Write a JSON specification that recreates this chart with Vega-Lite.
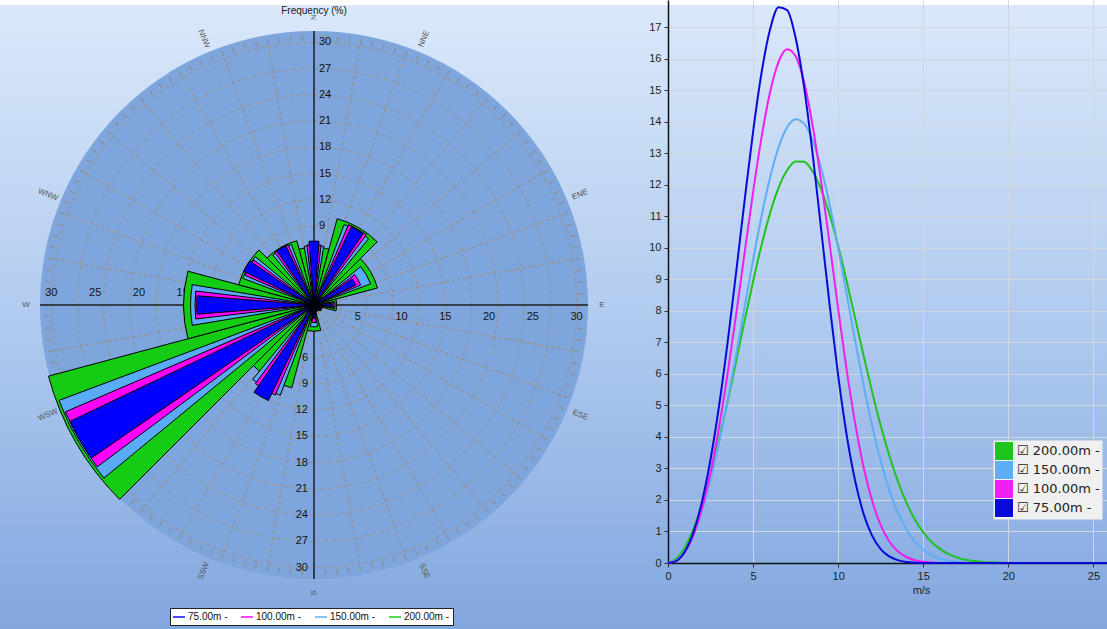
{
  "$schema": "https://vega.github.io/schema/vega-lite/v6.json",
  "padding": 0,
  "spacing": 40,
  "bounds": "flush",
  "background": "#ffffff",
  "config": {"view": {"stroke": null}, "font": "Liberation Sans"},
  "resolve": {"scale": {"color": "independent"}, "legend": {"color": "independent"}},
  "datasets": {
    "rose": [
      {"dir": 0, "h": "200.00m", "f": 6.6}, {"dir": 30, "h": "200.00m", "f": 10.2}, {"dir": 60, "h": "200.00m", "f": 7.5}, {"dir": 90, "h": "200.00m", "f": 2.6},
      {"dir": 120, "h": "200.00m", "f": 1.0}, {"dir": 150, "h": "200.00m", "f": 0.8}, {"dir": 180, "h": "200.00m", "f": 3.0}, {"dir": 210, "h": "200.00m", "f": 9.8},
      {"dir": 240, "h": "200.00m", "f": 31.4}, {"dir": 270, "h": "200.00m", "f": 14.9}, {"dir": 300, "h": "200.00m", "f": 8.9}, {"dir": 330, "h": "200.00m", "f": 7.6},
      {"dir": 0, "h": "150.00m", "f": 6.8}, {"dir": 30, "h": "150.00m", "f": 9.8}, {"dir": 60, "h": "150.00m", "f": 6.9}, {"dir": 90, "h": "150.00m", "f": 2.4},
      {"dir": 120, "h": "150.00m", "f": 0.9}, {"dir": 150, "h": "150.00m", "f": 0.7}, {"dir": 180, "h": "150.00m", "f": 2.5}, {"dir": 210, "h": "150.00m", "f": 11.0},
      {"dir": 240, "h": "150.00m", "f": 31.1}, {"dir": 270, "h": "150.00m", "f": 14.1}, {"dir": 300, "h": "150.00m", "f": 8.7}, {"dir": 330, "h": "150.00m", "f": 7.4},
      {"dir": 0, "h": "100.00m", "f": 6.9}, {"dir": 30, "h": "100.00m", "f": 10.0}, {"dir": 60, "h": "100.00m", "f": 5.8}, {"dir": 90, "h": "100.00m", "f": 2.3},
      {"dir": 120, "h": "100.00m", "f": 0.9}, {"dir": 150, "h": "100.00m", "f": 0.7}, {"dir": 180, "h": "100.00m", "f": 2.0}, {"dir": 210, "h": "100.00m", "f": 11.2},
      {"dir": 240, "h": "100.00m", "f": 30.9}, {"dir": 270, "h": "100.00m", "f": 13.6}, {"dir": 300, "h": "100.00m", "f": 8.6}, {"dir": 330, "h": "100.00m", "f": 7.5},
      {"dir": 0, "h": "75.00m", "f": 7.3}, {"dir": 30, "h": "75.00m", "f": 9.9}, {"dir": 60, "h": "75.00m", "f": 5.3}, {"dir": 90, "h": "75.00m", "f": 2.1},
      {"dir": 120, "h": "75.00m", "f": 0.8}, {"dir": 150, "h": "75.00m", "f": 0.6}, {"dir": 180, "h": "75.00m", "f": 1.5}, {"dir": 210, "h": "75.00m", "f": 12.1},
      {"dir": 240, "h": "75.00m", "f": 30.9}, {"dir": 270, "h": "75.00m", "f": 13.4}, {"dir": 300, "h": "75.00m", "f": 8.9}, {"dir": 330, "h": "75.00m", "f": 7.5}
    ],
    "wb": [
      {"h": "200.00m", "v": 0, "f": 0}, {"h": "200.00m", "v": 0.5, "f": 0.14}, {"h": "200.00m", "v": 1, "f": 0.5}, {"h": "200.00m", "v": 1.5, "f": 1.09}, {"h": "200.00m", "v": 2, "f": 1.86}, {"h": "200.00m", "v": 2.5, "f": 2.81}, {"h": "200.00m", "v": 3, "f": 3.91}, {"h": "200.00m", "v": 3.5, "f": 5.11}, {"h": "200.00m", "v": 4, "f": 6.39}, {"h": "200.00m", "v": 4.5, "f": 7.68}, {"h": "200.00m", "v": 5, "f": 8.93}, {"h": "200.00m", "v": 5.5, "f": 10.09}, {"h": "200.00m", "v": 6, "f": 11.1}, {"h": "200.00m", "v": 6.5, "f": 11.91}, {"h": "200.00m", "v": 7, "f": 12.46}, {"h": "200.00m", "v": 7.5, "f": 12.74}, {"h": "200.00m", "v": 8, "f": 12.73}, {"h": "200.00m", "v": 8.5, "f": 12.42}, {"h": "200.00m", "v": 9, "f": 11.85}, {"h": "200.00m", "v": 9.5, "f": 11.05}, {"h": "200.00m", "v": 10, "f": 10.06}, {"h": "200.00m", "v": 10.5, "f": 8.94}, {"h": "200.00m", "v": 11, "f": 7.76}, {"h": "200.00m", "v": 11.5, "f": 6.57}, {"h": "200.00m", "v": 12, "f": 5.42}, {"h": "200.00m", "v": 12.5, "f": 4.36}, {"h": "200.00m", "v": 13, "f": 3.42}, {"h": "200.00m", "v": 13.5, "f": 2.61}, {"h": "200.00m", "v": 14, "f": 1.93}, {"h": "200.00m", "v": 14.5, "f": 1.39}, {"h": "200.00m", "v": 15, "f": 0.98}, {"h": "200.00m", "v": 15.5, "f": 0.66}, {"h": "200.00m", "v": 16, "f": 0.44}, {"h": "200.00m", "v": 16.5, "f": 0.28}, {"h": "200.00m", "v": 17, "f": 0.17}, {"h": "200.00m", "v": 17.5, "f": 0.1}, {"h": "200.00m", "v": 18, "f": 0.06}, {"h": "200.00m", "v": 18.5, "f": 0.03}, {"h": "200.00m", "v": 19, "f": 0.02}, {"h": "200.00m", "v": 19.5, "f": 0.01}, {"h": "200.00m", "v": 20, "f": 0}, {"h": "200.00m", "v": 25.8, "f": 0},
      {"h": "150.00m", "v": 0, "f": 0}, {"h": "150.00m", "v": 0.5, "f": 0.09}, {"h": "150.00m", "v": 1, "f": 0.39}, {"h": "150.00m", "v": 1.5, "f": 0.92}, {"h": "150.00m", "v": 2, "f": 1.67}, {"h": "150.00m", "v": 2.5, "f": 2.64}, {"h": "150.00m", "v": 3, "f": 3.81}, {"h": "150.00m", "v": 3.5, "f": 5.15}, {"h": "150.00m", "v": 4, "f": 6.6}, {"h": "150.00m", "v": 4.5, "f": 8.11}, {"h": "150.00m", "v": 5, "f": 9.61}, {"h": "150.00m", "v": 5.5, "f": 11.01}, {"h": "150.00m", "v": 6, "f": 12.23}, {"h": "150.00m", "v": 6.5, "f": 13.19}, {"h": "150.00m", "v": 7, "f": 13.82}, {"h": "150.00m", "v": 7.5, "f": 14.08}, {"h": "150.00m", "v": 8, "f": 13.94}, {"h": "150.00m", "v": 8.5, "f": 13.41}, {"h": "150.00m", "v": 9, "f": 12.53}, {"h": "150.00m", "v": 9.5, "f": 11.37}, {"h": "150.00m", "v": 10, "f": 10.01}, {"h": "150.00m", "v": 10.5, "f": 8.53}, {"h": "150.00m", "v": 11, "f": 7.05}, {"h": "150.00m", "v": 11.5, "f": 5.63}, {"h": "150.00m", "v": 12, "f": 4.35}, {"h": "150.00m", "v": 12.5, "f": 3.24}, {"h": "150.00m", "v": 13, "f": 2.32}, {"h": "150.00m", "v": 13.5, "f": 1.61}, {"h": "150.00m", "v": 14, "f": 1.07}, {"h": "150.00m", "v": 14.5, "f": 0.68}, {"h": "150.00m", "v": 15, "f": 0.42}, {"h": "150.00m", "v": 15.5, "f": 0.25}, {"h": "150.00m", "v": 16, "f": 0.14}, {"h": "150.00m", "v": 16.5, "f": 0.07}, {"h": "150.00m", "v": 17, "f": 0.03}, {"h": "150.00m", "v": 17.5, "f": 0.01}, {"h": "150.00m", "v": 18, "f": 0}, {"h": "150.00m", "v": 25.8, "f": 0},
      {"h": "100.00m", "v": 0, "f": 0}, {"h": "100.00m", "v": 0.5, "f": 0.07}, {"h": "100.00m", "v": 1, "f": 0.35}, {"h": "100.00m", "v": 1.5, "f": 0.89}, {"h": "100.00m", "v": 2, "f": 1.73}, {"h": "100.00m", "v": 2.5, "f": 2.87}, {"h": "100.00m", "v": 3, "f": 4.31}, {"h": "100.00m", "v": 3.5, "f": 5.99}, {"h": "100.00m", "v": 4, "f": 7.86}, {"h": "100.00m", "v": 4.5, "f": 9.83}, {"h": "100.00m", "v": 5, "f": 11.76}, {"h": "100.00m", "v": 5.5, "f": 13.51}, {"h": "100.00m", "v": 6, "f": 14.94}, {"h": "100.00m", "v": 6.5, "f": 15.9}, {"h": "100.00m", "v": 7, "f": 16.3}, {"h": "100.00m", "v": 7.5, "f": 16.08}, {"h": "100.00m", "v": 8, "f": 15.25}, {"h": "100.00m", "v": 8.5, "f": 13.88}, {"h": "100.00m", "v": 9, "f": 12.11}, {"h": "100.00m", "v": 9.5, "f": 10.12}, {"h": "100.00m", "v": 10, "f": 8.07}, {"h": "100.00m", "v": 10.5, "f": 6.13}, {"h": "100.00m", "v": 11, "f": 4.43}, {"h": "100.00m", "v": 11.5, "f": 3.03}, {"h": "100.00m", "v": 12, "f": 1.97}, {"h": "100.00m", "v": 12.5, "f": 1.2}, {"h": "100.00m", "v": 13, "f": 0.69}, {"h": "100.00m", "v": 13.5, "f": 0.37}, {"h": "100.00m", "v": 14, "f": 0.19}, {"h": "100.00m", "v": 14.5, "f": 0.09}, {"h": "100.00m", "v": 15, "f": 0.04}, {"h": "100.00m", "v": 15.5, "f": 0.015}, {"h": "100.00m", "v": 16, "f": 0}, {"h": "100.00m", "v": 25.8, "f": 0},
      {"h": "75.00m", "v": 0, "f": 0}, {"h": "75.00m", "v": 0.5, "f": 0.07}, {"h": "75.00m", "v": 1, "f": 0.37}, {"h": "75.00m", "v": 1.5, "f": 0.98}, {"h": "75.00m", "v": 2, "f": 1.95}, {"h": "75.00m", "v": 2.5, "f": 3.29}, {"h": "75.00m", "v": 3, "f": 4.98}, {"h": "75.00m", "v": 3.5, "f": 6.98}, {"h": "75.00m", "v": 4, "f": 9.2}, {"h": "75.00m", "v": 4.5, "f": 11.49}, {"h": "75.00m", "v": 5, "f": 13.68}, {"h": "75.00m", "v": 5.5, "f": 15.56}, {"h": "75.00m", "v": 6, "f": 16.93}, {"h": "75.00m", "v": 6.5, "f": 17.63}, {"h": "75.00m", "v": 7, "f": 17.54}, {"h": "75.00m", "v": 7.5, "f": 16.66}, {"h": "75.00m", "v": 8, "f": 15.09}, {"h": "75.00m", "v": 8.5, "f": 12.98}, {"h": "75.00m", "v": 9, "f": 10.59}, {"h": "75.00m", "v": 9.5, "f": 8.18}, {"h": "75.00m", "v": 10, "f": 5.95}, {"h": "75.00m", "v": 10.5, "f": 4.06}, {"h": "75.00m", "v": 11, "f": 2.6}, {"h": "75.00m", "v": 11.5, "f": 1.55}, {"h": "75.00m", "v": 12, "f": 0.86}, {"h": "75.00m", "v": 12.5, "f": 0.44}, {"h": "75.00m", "v": 13, "f": 0.21}, {"h": "75.00m", "v": 13.5, "f": 0.09}, {"h": "75.00m", "v": 14, "f": 0.03}, {"h": "75.00m", "v": 14.5, "f": 0.01}, {"h": "75.00m", "v": 15, "f": 0}, {"h": "75.00m", "v": 25.8, "f": 0}
    ]
  },
  "hconcat": [
    {
      "width": 628,
      "height": 610,
      "resolve": {"scale": {"theta": "independent", "angle": "independent"}},
      "layer": [
        {
          "data": {"values": [{}]},
          "mark": {"type": "rect", "x": 0, "x2": 1107, "y": 5, "y2": 629,
            "color": {"gradient": "linear", "x1": 0, "y1": 0, "x2": 0, "y2": 1,
              "stops": [{"offset": 0, "color": "#dae8fa"}, {"offset": 0.5, "color": "#b1cbef"}, {"offset": 1, "color": "#82a7df"}]}},
          "encoding": {}
        },
        {
          "data": {"values": [{"r": 31.3}]},
          "mark": {"type": "arc", "theta": 0, "theta2": 6.2832, "color": "#7ea6dd"},
          "encoding": {"radius": {"field": "r", "type": "quantitative", "stack": null, "scale": {"type": "linear", "domain": [0, 31.3], "range": [0, 274], "zero": true, "nice": false}}}
        },
        {
          "data": {"values": [{"r": 30.55}]},
          "mark": {"type": "arc", "theta": 0, "theta2": 6.2832, "filled": false, "color": "#8e8b8a", "strokeWidth": 5, "strokeDash": [1.2, 10.46]},
          "encoding": {"radius": {"field": "r", "type": "quantitative", "stack": null, "scale": {"type": "linear", "domain": [0, 31.3], "range": [0, 274], "zero": true, "nice": false}}}
        },
        {
          "data": {"values": [{"r": 3}, {"r": 6}, {"r": 9}, {"r": 12}, {"r": 15}, {"r": 18}, {"r": 21}, {"r": 24}, {"r": 27}, {"r": 30}]},
          "mark": {"type": "arc", "theta": 0, "theta2": 6.2832, "filled": false, "color": "#9a9089", "strokeWidth": 1, "strokeDash": [4, 3]},
          "encoding": {"radius": {"field": "r", "type": "quantitative", "stack": null, "scale": {"type": "linear", "domain": [0, 31.3], "range": [0, 274], "zero": true, "nice": false}}}
        },
        {
          "data": {"values": [{"a": 10}, {"a": 20}, {"a": 30}, {"a": 40}, {"a": 50}, {"a": 60}, {"a": 70}, {"a": 80}, {"a": 100}, {"a": 110}, {"a": 120}, {"a": 130}, {"a": 140}, {"a": 150}, {"a": 160}, {"a": 170}, {"a": 190}, {"a": 200}, {"a": 210}, {"a": 220}, {"a": 230}, {"a": 240}, {"a": 250}, {"a": 260}, {"a": 280}, {"a": 290}, {"a": 300}, {"a": 310}, {"a": 320}, {"a": 330}, {"a": 340}, {"a": 350}]},
          "mark": {"type": "arc", "filled": false, "color": "#9a9089", "strokeWidth": 1, "strokeDash": [3, 3]},
          "encoding": {
            "theta": {"field": "a", "type": "quantitative", "stack": null, "scale": {"domain": [0, 360], "range": [0, 6.283185]}},
            "theta2": {"field": "a"},
            "radius": {"datum": 30, "type": "quantitative", "scale": {"type": "linear", "domain": [0, 31.3], "range": [0, 274], "zero": true, "nice": false}}
          }
        },
        {
          "data": {"values": [{"a": 0}, {"a": 90}, {"a": 180}, {"a": 270}]},
          "mark": {"type": "arc", "filled": false, "color": "#1e1e1e", "strokeWidth": 1.5},
          "encoding": {
            "theta": {"field": "a", "type": "quantitative", "stack": null, "scale": {"domain": [0, 360], "range": [0, 6.283185]}},
            "theta2": {"field": "a"},
            "radius": {"datum": 31.3, "type": "quantitative", "scale": {"type": "linear", "domain": [0, 31.3], "range": [0, 274], "zero": true, "nice": false}}
          }
        },
        {
          "data": {"values": [{"r": 9}, {"r": 12}, {"r": 15}, {"r": 18}, {"r": 21}, {"r": 24}, {"r": 27}, {"r": 30}]},
          "mark": {"type": "text", "theta": 0, "dx": 5, "align": "left", "baseline": "middle", "fontSize": 11, "color": "#111111"},
          "encoding": {"radius": {"field": "r", "type": "quantitative", "scale": {"type": "linear", "domain": [0, 31.3], "range": [0, 274], "zero": true, "nice": false}}, "text": {"field": "r"}}
        },
        {
          "data": {"values": [{"r": 6}, {"r": 9}, {"r": 12}, {"r": 15}, {"r": 18}, {"r": 21}, {"r": 24}, {"r": 27}, {"r": 30}]},
          "mark": {"type": "text", "theta": 3.14159, "dx": -6, "align": "right", "baseline": "middle", "fontSize": 11, "color": "#111111"},
          "encoding": {"radius": {"field": "r", "type": "quantitative", "scale": {"type": "linear", "domain": [0, 31.3], "range": [0, 274], "zero": true, "nice": false}}, "text": {"field": "r"}}
        },
        {
          "data": {"values": [{"r": 0}, {"r": 5}, {"r": 10}, {"r": 15}, {"r": 20}, {"r": 25}, {"r": 30}]},
          "mark": {"type": "text", "theta": 1.5708, "dy": 12, "align": "center", "baseline": "middle", "fontSize": 11, "color": "#111111"},
          "encoding": {"radius": {"field": "r", "type": "quantitative", "scale": {"type": "linear", "domain": [0, 31.3], "range": [0, 274], "zero": true, "nice": false}}, "text": {"field": "r"}}
        },
        {
          "data": {"values": [{"r": 15}, {"r": 20}, {"r": 25}, {"r": 30}]},
          "mark": {"type": "text", "theta": 4.71239, "dy": -12, "align": "center", "baseline": "middle", "fontSize": 11, "color": "#111111"},
          "encoding": {"radius": {"field": "r", "type": "quantitative", "scale": {"type": "linear", "domain": [0, 31.3], "range": [0, 274], "zero": true, "nice": false}}, "text": {"field": "r"}}
        },
        {
          "data": {"values": [{"d": "N", "a": 0}, {"d": "NNE", "a": 22.5}, {"d": "ENE", "a": 67.5}, {"d": "E", "a": 90}, {"d": "ESE", "a": 112.5}, {"d": "SSE", "a": 157.5}]},
          "mark": {"type": "text", "align": "center", "baseline": "middle", "fontSize": 8, "color": "#555555"},
          "encoding": {
            "theta": {"field": "a", "type": "quantitative", "stack": null, "scale": {"domain": [0, 360], "range": [0, 6.283185]}},
            "radius": {"datum": 32.9, "type": "quantitative", "scale": {"type": "linear", "domain": [0, 31.3], "range": [0, 274], "zero": true, "nice": false}},
            "angle": {"field": "a", "type": "quantitative", "scale": {"domain": [0, 180], "range": [-90, 90]}, "legend": null},
            "text": {"field": "d"}
          }
        },
        {
          "data": {"values": [{"d": "S", "a": 180}, {"d": "SSW", "a": 202.5}, {"d": "WSW", "a": 247.5}, {"d": "W", "a": 270}, {"d": "WNW", "a": 292.5}, {"d": "NNW", "a": 337.5}]},
          "mark": {"type": "text", "align": "center", "baseline": "middle", "fontSize": 8, "color": "#555555"},
          "encoding": {
            "theta": {"field": "a", "type": "quantitative", "stack": null, "scale": {"domain": [0, 360], "range": [0, 6.283185]}},
            "radius": {"datum": 32.9, "type": "quantitative", "scale": {"type": "linear", "domain": [0, 31.3], "range": [0, 274], "zero": true, "nice": false}},
            "angle": {"field": "a", "type": "quantitative", "scale": {"domain": [180, 360], "range": [-90, 90]}, "legend": null},
            "text": {"field": "d"}
          }
        },
        {
          "data": {"values": [{"t": "Frequency (%)"}]},
          "mark": {"type": "text", "theta": 0, "align": "center", "baseline": "middle", "fontSize": 10, "color": "#1a1a1a"},
          "encoding": {
            "radius": {"datum": 33.6, "type": "quantitative", "scale": {"type": "linear", "domain": [0, 31.3], "range": [0, 274], "zero": true, "nice": false}},
            "text": {"field": "t"}
          }
        },
        {
          "data": {"name": "rose"},
          "transform": [{"filter": {"field": "h", "equal": "200.00m"}}],
          "mark": {"type": "arc", "stroke": "#000000", "strokeWidth": 1},
          "encoding": {
            "theta": {"field": "dir", "type": "ordinal", "scale": {"type": "band", "domain": [0, 30, 60, 90, 120, 150, 180, 210, 240, 270, 300, 330], "range": [-0.261799, 6.021386], "paddingInner": 0, "paddingOuter": 0}},
            "radius": {"field": "f", "type": "quantitative", "stack": null, "scale": {"type": "linear", "domain": [0, 31.3], "range": [0, 274], "zero": true, "nice": false}},
            "color": {"field": "h", "type": "nominal", "scale": {"domain": ["75.00m", "100.00m", "150.00m", "200.00m"], "range": ["#0000ff", "#ff00ff", "#5aabf5", "#14cc14"]},
              "legend": {"title": null, "orient": "none", "legendX": 170, "legendY": 608, "direction": "horizontal", "columns": 4,
                "symbolType": "M-1,-0.12H1V0.12H-1Z", "symbolSize": 144, "symbolStrokeWidth": 0, "labelFontSize": 10, "labelColor": "#111111",
                "fillColor": "#ffffff", "strokeColor": "#222222", "padding": 3, "columnPadding": 13, "labelOffset": 3,
                "labelExpr": "datum.label + ' -'",
                "encode": {"symbols": {"update": {"stroke": {"value": "transparent"}, "strokeWidth": {"value": 0}}}}}}
          }
        },
        {
          "data": {"name": "rose"},
          "transform": [{"filter": {"field": "h", "equal": "150.00m"}}],
          "mark": {"type": "arc", "stroke": "#000000", "strokeWidth": 1},
          "encoding": {
            "theta": {"field": "dir", "type": "ordinal", "scale": {"type": "band", "domain": [0, 30, 60, 90, 120, 150, 180, 210, 240, 270, 300, 330], "range": [-0.261799, 6.021386], "paddingInner": 0.367, "paddingOuter": 0.1835}},
            "radius": {"field": "f", "type": "quantitative", "stack": null, "scale": {"type": "linear", "domain": [0, 31.3], "range": [0, 274], "zero": true, "nice": false}},
            "color": {"field": "h", "type": "nominal", "scale": {"domain": ["75.00m", "100.00m", "150.00m", "200.00m"], "range": ["#0000ff", "#ff00ff", "#5aabf5", "#14cc14"]}}
          }
        },
        {
          "data": {"name": "rose"},
          "transform": [{"filter": {"field": "h", "equal": "100.00m"}}],
          "mark": {"type": "arc", "stroke": "#000000", "strokeWidth": 1},
          "encoding": {
            "theta": {"field": "dir", "type": "ordinal", "scale": {"type": "band", "domain": [0, 30, 60, 90, 120, 150, 180, 210, 240, 270, 300, 330], "range": [-0.261799, 6.021386], "paddingInner": 0.55, "paddingOuter": 0.275}},
            "radius": {"field": "f", "type": "quantitative", "stack": null, "scale": {"type": "linear", "domain": [0, 31.3], "range": [0, 274], "zero": true, "nice": false}},
            "color": {"field": "h", "type": "nominal", "scale": {"domain": ["75.00m", "100.00m", "150.00m", "200.00m"], "range": ["#0000ff", "#ff00ff", "#5aabf5", "#14cc14"]}}
          }
        },
        {
          "data": {"name": "rose"},
          "transform": [{"filter": {"field": "h", "equal": "75.00m"}}],
          "mark": {"type": "arc", "stroke": "#000000", "strokeWidth": 1},
          "encoding": {
            "theta": {"field": "dir", "type": "ordinal", "scale": {"type": "band", "domain": [0, 30, 60, 90, 120, 150, 180, 210, 240, 270, 300, 330], "range": [-0.261799, 6.021386], "paddingInner": 0.7, "paddingOuter": 0.35}},
            "radius": {"field": "f", "type": "quantitative", "stack": null, "scale": {"type": "linear", "domain": [0, 31.3], "range": [0, 274], "zero": true, "nice": false}},
            "color": {"field": "h", "type": "nominal", "scale": {"domain": ["75.00m", "100.00m", "150.00m", "200.00m"], "range": ["#0000ff", "#ff00ff", "#5aabf5", "#14cc14"]}}
          }
        }
      ]
    },
    {
      "width": 439,
      "height": 563,
      "data": {"name": "wb"},
      "mark": {"type": "line", "strokeWidth": 2, "interpolate": "monotone"},
      "encoding": {
        "x": {"field": "v", "type": "quantitative", "scale": {"domain": [0, 25.8], "nice": false, "zero": false},
          "axis": {"values": [0, 5, 10, 15, 20, 25], "title": "m/s", "titleX": 253, "titleFontSize": 11, "titleFontWeight": "normal", "titleColor": "#222222", "titlePadding": 3,
            "labelFontSize": 11, "labelColor": "#222222", "labelPadding": 3, "labelFlush": false, "tickSize": 4, "tickColor": "#333333",
            "domainColor": "#111111", "domainWidth": 1.5, "gridColor": "#d2d7de", "gridWidth": 1}},
        "y": {"field": "f", "type": "quantitative", "scale": {"domain": [0, 17.86], "nice": false},
          "axis": {"values": [0, 1, 2, 3, 4, 5, 6, 7, 8, 9, 10, 11, 12, 13, 14, 15, 16, 17], "title": null,
            "labelFontSize": 11, "labelColor": "#222222", "labelPadding": 3, "tickSize": 4, "tickColor": "#333333",
            "domainColor": "#111111", "domainWidth": 1.5, "gridColor": "#d2d7de", "gridWidth": 1}},
        "color": {"field": "h", "type": "nominal", "sort": null,
          "scale": {"domain": ["200.00m", "150.00m", "100.00m", "75.00m"], "range": ["#1ec31e", "#5eaef5", "#f01ef0", "#0a0ad8"]},
          "legend": {"title": null, "orient": "none", "legendX": 325, "legendY": 440, "symbolType": "square", "symbolSize": 324, "symbolStrokeWidth": 0,
            "labelFont": "DejaVu Sans", "labelFontSize": 13, "labelColor": "#222222", "labelOffset": 4, "labelExpr": "'\u2611 ' + datum.label + ' -'",
            "fillColor": "#f0f0f0", "strokeColor": "transparent", "strokeWidth": 0, "padding": 2, "rowPadding": 1, "symbolOpacity": 1,
            "encode": {"symbols": {"update": {
              "fill": {"signal": "datum.value === '200.00m' ? '#1ec31e' : datum.value === '150.00m' ? '#5eaef5' : datum.value === '100.00m' ? '#f01ef0' : '#0a0ad8'"},
              "fillOpacity": {"value": 1},
              "strokeWidth": {"value": 0}}}}}}
      }
    }
  ]
}
